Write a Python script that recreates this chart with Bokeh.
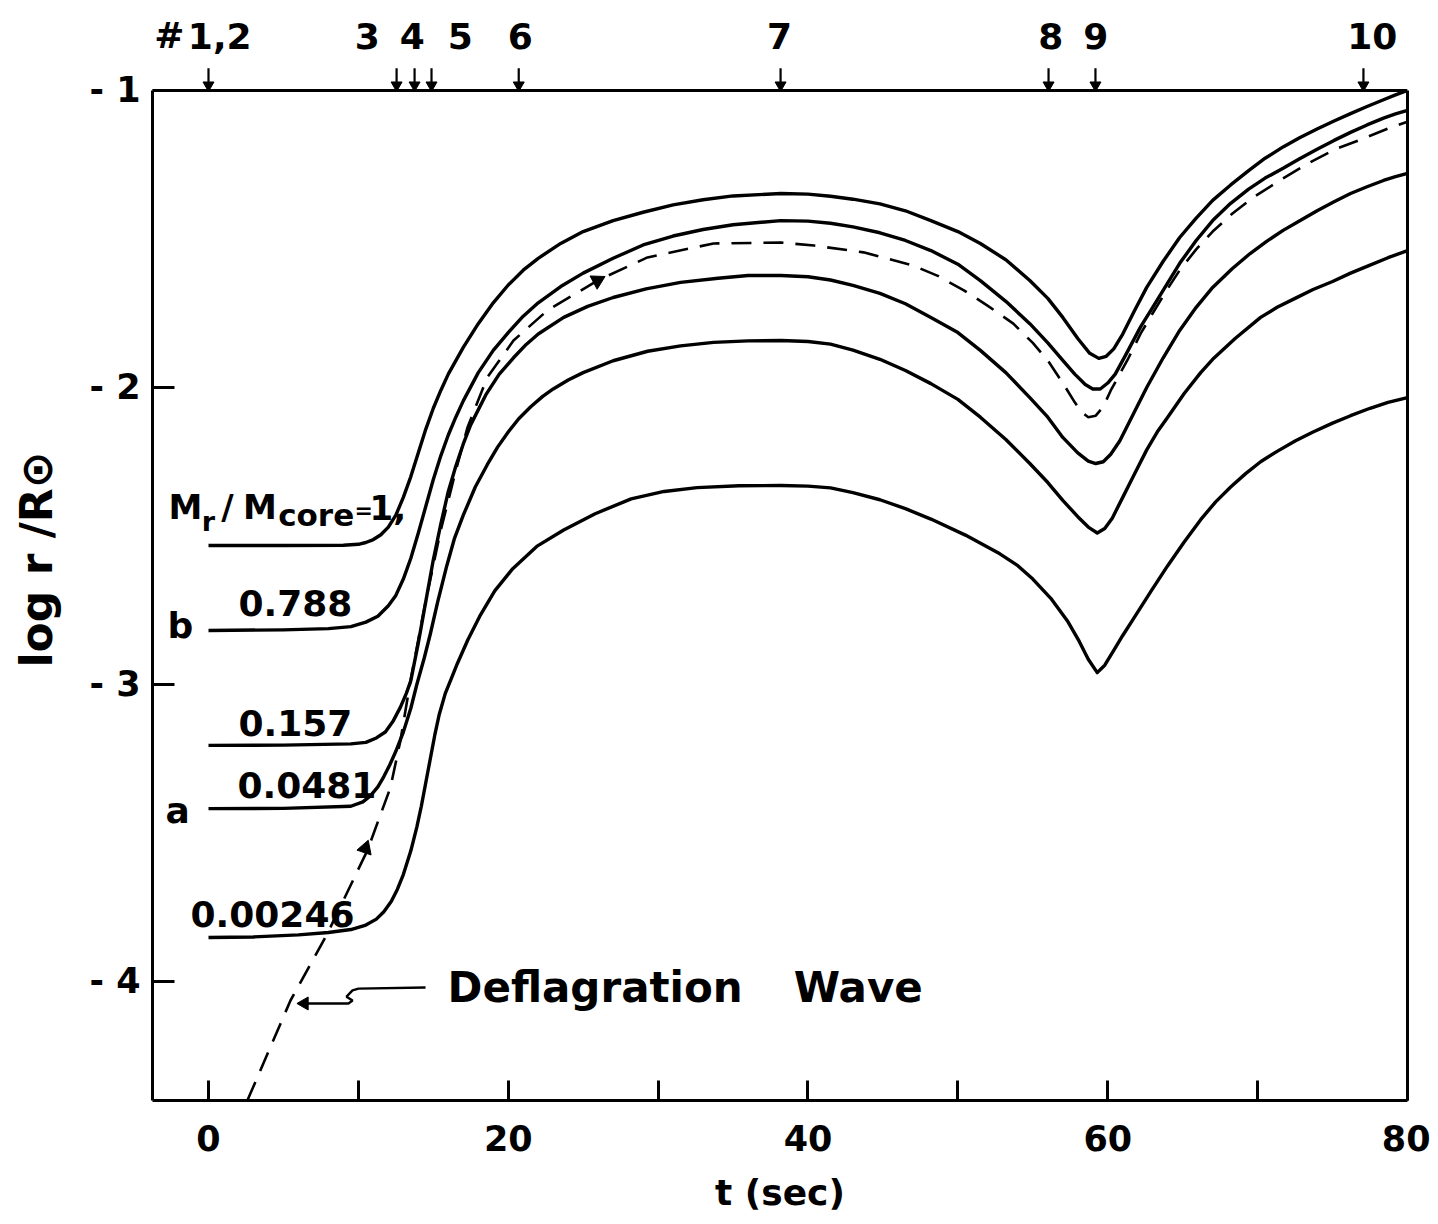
from bokeh.plotting import figure
from bokeh.models import Range1d, FixedTicker, LinearAxis, CustomJSTickFormatter, Span
from bokeh.embed import file_html
from bokeh.resources import INLINE
from bokeh.core.properties import value

# ---------------- data ----------------
# Mr/Mcore = 1
t_m1 = [0, 5, 9, 10, 10.5, 11, 11.5, 12, 12.5, 13, 13.5, 14, 14.5, 15, 15.5, 16, 17, 18, 19,
        20, 21, 22, 23.5, 25, 27, 29, 31, 33, 35, 38.2, 40, 41.5, 43, 44.8, 46.5, 48.2, 50,
        51.5, 53.2, 54.8, 56, 57, 58, 58.8, 59.4, 59.9, 60.4, 61.0, 61.8, 62.6, 63.7, 64.8,
        65.9, 67, 68.2, 69.4, 70.5, 71.7, 72.8, 74, 75.1, 76.2, 77.3, 78.4, 79.2, 80]
y_m1 = [-2.532, -2.532, -2.531, -2.528, -2.522, -2.512, -2.496, -2.47, -2.43, -2.37, -2.30,
        -2.22, -2.14, -2.07, -2.01, -1.955, -1.865, -1.785, -1.715, -1.655, -1.605, -1.565,
        -1.515, -1.475, -1.438, -1.41, -1.385, -1.368, -1.355, -1.347, -1.349, -1.356,
        -1.366, -1.382, -1.405, -1.438, -1.475, -1.515, -1.57, -1.64, -1.70, -1.764, -1.835,
        -1.885, -1.902, -1.895, -1.87, -1.82, -1.74, -1.663, -1.575, -1.495, -1.43, -1.37,
        -1.318, -1.27, -1.228, -1.19, -1.159, -1.129, -1.103, -1.078, -1.054, -1.031, -1.015,
        -1.0]
# Mr/Mcore = 0.788 (b)
t_m2 = [0, 5, 8, 9.5, 10.5, 11.3, 12, 12.5, 13, 13.5, 14, 14.5, 15, 15.5, 16, 16.5, 17, 18,
        19, 20, 21, 22, 23.5, 25, 27, 29, 31, 33, 35, 38.2, 40, 41.5, 43, 44.8, 46.5, 48.2,
        50, 51.5, 53.2, 54.8, 56, 57, 57.8, 58.5, 59.0, 59.5, 60.0, 60.5, 61.2, 62.2, 63.0,
        64.8, 65.9, 67, 68.2, 69.4, 70.5, 71.7, 72.8, 74, 75.1, 76.2, 77.3, 78.4, 79.2, 80]
y_m2 = [-2.818, -2.816, -2.812, -2.805, -2.79, -2.77, -2.735, -2.70, -2.645, -2.575, -2.49,
        -2.40, -2.31, -2.23, -2.16, -2.10, -2.045, -1.95, -1.875, -1.815, -1.76, -1.715,
        -1.66, -1.615, -1.565, -1.52, -1.49, -1.468, -1.452, -1.438, -1.440, -1.447, -1.459,
        -1.479, -1.505, -1.539, -1.585, -1.64, -1.71, -1.785, -1.85, -1.909, -1.955, -1.99,
        -2.005, -2.005, -1.985, -1.955, -1.89, -1.795, -1.73, -1.582, -1.505, -1.438, -1.38,
        -1.332, -1.295, -1.262, -1.23, -1.197, -1.168, -1.141, -1.116, -1.093, -1.079, -1.067]
# Mr/Mcore = 0.157
t_m3 = [0, 5, 9.5, 10.5, 11.2, 11.8, 12.3, 12.8, 13.2, 13.5, 14, 14.5, 15, 15.5, 16, 16.5,
        17, 17.5, 18.5, 19.4, 20.35, 21.2, 22, 23.7, 25.3, 27, 29.2, 31.5, 34, 36, 38.2, 40,
        41.5, 43, 44.8, 46.5, 48.2, 50, 51.5, 53.2, 54.8, 56, 57, 58, 58.7, 59.2, 59.7, 60.2,
        60.8, 61.7, 62.6, 63.7, 64.8, 65.9, 67, 68.3, 69.5, 70.6, 71.7, 72.9, 74, 75.1, 76.2,
        77.3, 78.4, 79.2, 80]
y_m3 = [-3.205, -3.204, -3.20, -3.195, -3.18, -3.16, -3.125, -3.077, -3.03, -2.987, -2.86,
        -2.72, -2.58, -2.46, -2.35, -2.265, -2.19, -2.125, -2.025, -1.955, -1.90, -1.855,
        -1.82, -1.764, -1.727, -1.697, -1.668, -1.646, -1.632, -1.623, -1.623, -1.627, -1.638,
        -1.656, -1.683, -1.718, -1.764, -1.815, -1.875, -1.95, -2.034, -2.10, -2.168, -2.22,
        -2.248, -2.256, -2.25, -2.225, -2.18, -2.09, -2.0, -1.90, -1.808, -1.73, -1.663, -1.60,
        -1.549, -1.508, -1.471, -1.436, -1.404, -1.375, -1.347, -1.324, -1.303, -1.29, -1.279]
# Mr/Mcore = 0.0481 (a)
t_m4 = [0, 5, 9.5, 10.3, 10.8, 11.3, 11.7, 12.1, 12.5, 13, 13.5, 13.9, 14.4, 14.8, 15.3,
        15.9, 16.4, 17, 17.8, 18.6, 19.3, 20, 20.7, 21.5, 22.3, 23, 24, 25, 27, 29.3, 31.5,
        33.7, 36, 38.2, 40, 41.5, 43, 44.8, 46.5, 48.2, 50, 51.5, 53.2, 54.8, 56, 57, 58, 58.7,
        59.3, 59.8, 60.3, 61, 61.7, 62.6, 63.3, 64, 65.1, 66.2, 67, 68.5, 70.2, 71.3, 72.5,
        73.7, 75, 76.2, 77.5, 78.7, 80]
y_m4 = [-3.418, -3.417, -3.41, -3.395, -3.375, -3.345, -3.31, -3.27, -3.225, -3.16, -3.08,
        -3.0, -2.91, -2.83, -2.72, -2.60, -2.51, -2.43, -2.335, -2.26, -2.20, -2.15, -2.105,
        -2.065, -2.03, -2.005, -1.975, -1.95, -1.91, -1.878, -1.86, -1.848, -1.843, -1.842,
        -1.845, -1.854, -1.874, -1.905, -1.943, -1.987, -2.04, -2.10, -2.175, -2.256, -2.32,
        -2.38, -2.435, -2.47, -2.49, -2.475, -2.44, -2.37, -2.30, -2.21, -2.15, -2.10, -2.02,
        -1.95, -1.905, -1.835, -1.764, -1.73, -1.70, -1.67, -1.643, -1.615, -1.588, -1.563,
        -1.539]
# Mr/Mcore = 0.00246
t_m5 = [0, 3, 6, 8, 9.5, 10.5, 11.2, 11.7, 12.2, 12.6, 13, 13.5, 13.9, 14.2, 14.5, 14.8,
        15.1, 15.4, 15.8, 16.2, 16.6, 17.3, 18.1, 19.1, 20.3, 21.9, 23.7, 25.8, 28.2, 30.4,
        32.6, 35.4, 38.2, 40, 41.5, 43, 44.8, 46.5, 48.2, 50.5, 52.8, 54, 55, 56.2, 57.3,
        58.1, 58.7, 59.3, 59.8, 60.4, 61, 61.7, 62.9, 64, 65.1, 66.2, 67.2, 68.2, 69.2, 70.2,
        71.3, 72.5, 73.7, 75, 76.2, 77.5, 78.7, 80]
y_m5 = [-3.852, -3.85, -3.843, -3.835, -3.825, -3.81, -3.79, -3.765, -3.73, -3.69, -3.64,
        -3.56, -3.48, -3.41, -3.33, -3.25, -3.17, -3.10, -3.03, -2.98, -2.93, -2.85, -2.77,
        -2.685, -2.61, -2.535, -2.48, -2.425, -2.375, -2.35, -2.337, -2.331, -2.33, -2.332,
        -2.338, -2.354, -2.378, -2.408, -2.443, -2.497, -2.56, -2.60, -2.645, -2.71, -2.785,
        -2.855, -2.915, -2.96, -2.935, -2.885, -2.835, -2.78, -2.685, -2.60, -2.52, -2.445,
        -2.385, -2.335, -2.29, -2.25, -2.215, -2.18, -2.15, -2.12, -2.095, -2.07, -2.05,
        -2.034]
# deflagration wave (dashed)
t_wave = [2.6, 5.47, 7.94, 10.6, 12.14, 12.8, 13.48, 14.5, 15.5, 16.5, 17.28, 18.6, 20.35,
          22.6, 25.95, 29.29, 33.7, 38.2, 40.4, 43.7, 47.0, 48.7, 50.4, 52.0, 53.7, 55.0,
          56.0, 57.0, 57.8, 58.3, 58.7, 59.2, 59.7, 60.2, 61.3, 62.2, 63.0, 63.9, 64.8, 65.9,
          67.0, 68.3, 69.7, 71.7, 73.5, 75.3, 77.05, 78.85, 80]
y_wave = [-4.40, -4.064, -3.838, -3.559, -3.347, -3.19, -2.987, -2.717, -2.48, -2.28, -2.135,
          -1.966, -1.842, -1.741, -1.640, -1.562, -1.515, -1.512, -1.522, -1.545, -1.589,
          -1.625, -1.673, -1.725, -1.785, -1.85, -1.909, -1.985, -2.05, -2.085, -2.10, -2.095,
          -2.065, -2.01, -1.909, -1.818, -1.75, -1.675, -1.605, -1.535, -1.475, -1.415, -1.36,
          -1.296, -1.242, -1.195, -1.162, -1.125, -1.105]
# arrowheads on the wave track
wave_arrow_t = [10.47, 25.95]
wave_arrow_y = [-3.552, -1.640]

curve_labels = ["0.788", "0.157", "0.0481", "0.00246"]

# model numbers marked on the top edge
event_t = [0, 12.55, 13.75, 14.88, 20.7, 38.17, 56.05, 59.18, 77.06]
event_labels = ["1,2", "3", "4", "5", "6", "7", "8", "9", "10"]

x_ticks = [0, 20, 40, 60, 80]
x_minor_ticks = [10, 30, 50, 70]
y_ticks = [-4, -3, -2, -1]

# ---------------- figure ----------------
FONT = "DejaVu Sans"
X0, X1 = -3.736, 80.0
Y0, Y1 = -4.4007, -0.7576
YTOP = -1.0

p = figure(width=1430, height=1216, x_range=Range1d(X0, X1), y_range=Range1d(Y0, Y1),
           output_backend="svg", toolbar_location=None,
           min_border_left=152, min_border_right=23, min_border_top=18, min_border_bottom=116)
p.outline_line_color = None
p.grid.visible = False
p.background_fill_color = "white"
p.border_fill_color = "white"

xa = p.xaxis[0]
xa.ticker = FixedTicker(ticks=x_ticks, minor_ticks=x_minor_ticks)
xa.major_tick_in = 20
xa.major_tick_out = 0
xa.minor_tick_in = 20
xa.minor_tick_out = 0
xa.axis_line_width = 3
xa.major_tick_line_width = 3
xa.minor_tick_line_width = 3
xa.minor_tick_line_color = "black"
xa.major_label_text_font = FONT
xa.major_label_text_font_size = "35px"
xa.major_label_text_font_style = "bold"
xa.major_label_text_color = "black"
xa.major_label_standoff = 24
xa.axis_label = "t (sec)"
xa.axis_label_text_font = FONT
xa.axis_label_text_font_size = "36px"
xa.axis_label_text_font_style = "bold"
xa.axis_label_text_color = "black"
xa.axis_label_standoff = 18

ya = p.yaxis[0]
ya.ticker = FixedTicker(ticks=y_ticks)
ya.bounds = (Y0, YTOP)
ya.formatter = CustomJSTickFormatter(code="return '- ' + String(Math.abs(Math.round(tick)));")
ya.major_tick_in = 22
ya.major_tick_out = 0
ya.minor_tick_line_color = None
ya.axis_line_width = 3
ya.major_tick_line_width = 3
ya.major_label_text_font = FONT
ya.major_label_text_font_size = "35px"
ya.major_label_text_font_style = "bold"
ya.major_label_text_color = "black"
ya.major_label_standoff = 12
ya.axis_label = "log r /R\u2299"
ya.axis_label_text_font = FONT
ya.axis_label_text_font_size = "44px"
ya.axis_label_text_font_style = "bold"
ya.axis_label_text_color = "black"
ya.axis_label_standoff = 24

ra = LinearAxis(bounds=(Y0, YTOP), ticker=FixedTicker(ticks=[]), major_tick_line_color=None,
                minor_tick_line_color=None, axis_line_width=3)
p.add_layout(ra, "right")

p.add_layout(Span(location=YTOP, dimension="width", line_color="black", line_width=3))

# curves
for tt, yy in [(t_m1, y_m1), (t_m2, y_m2), (t_m3, y_m3), (t_m4, y_m4), (t_m5, y_m5)]:
    p.line(tt, yy, line_color="black", line_width=3.4, line_join="round")
p.line(t_wave, y_wave, line_color="black", line_width=2.6, line_dash="20 12")
p.scatter(wave_arrow_t, wave_arrow_y, marker="triangle", size=15, angle=[-0.33, -1.08],
          fill_color="black", line_color="black")

# top event arrows and numbers
n_ev = len(event_t)
p.segment(x0=event_t, y0=[-0.925] * n_ev, x1=event_t, y1=[YTOP] * n_ev,
          line_color="black", line_width=2.2)
p.scatter(event_t, [-0.982] * n_ev, marker="inverted_triangle", size=11,
          fill_color="black", line_color="black")
label_x = [0.75, 10.6, 13.6, 16.8, 20.8, 38.1, 56.2, 59.2, 77.65]
p.text(x=label_x, y=[-0.815] * n_ev, text=event_labels, text_align="center",
       text_baseline="middle", text_font=value(FONT), text_font_size=value("36px"),
       text_font_style="bold", text_color="black")
p.text(x=[-3.62], y=[-0.815], text=["#"], text_align="left", text_baseline="middle",
       text_font=value(FONT), text_font_size=value("36px"), text_font_style="bold",
       text_color="black")

# curve labels
def txt(x, y, s, size="36px"):
    p.text(x=[x], y=[y], text=[s], text_align="left", text_baseline="middle",
           text_font=value(FONT), text_font_size=value(size), text_font_style="bold",
           text_color="black")

txt(-2.67, -2.404, "M", "34px")
txt(-0.45, -2.45, "r", "27px")
txt(0.85, -2.404, "/", "34px")
txt(2.3, -2.404, "M", "34px")
txt(4.65, -2.43, "core", "31px")
txt(9.75, -2.414, "=", "22px")
txt(10.75, -2.404, "1,", "34px")
txt(2.0, -2.727, curve_labels[0], "36px")
txt(-2.74, -2.801, "b", "36px")
txt(2.0, -3.128, curve_labels[1], "36px")
txt(1.93, -3.337, curve_labels[2], "36px")
txt(-2.87, -3.424, "a", "36px")
txt(-1.2, -3.774, curve_labels[3], "36px")
txt(15.95, -4.02, "Deflagration", "42px")
txt(39.05, -4.02, "Wave", "42px")

# pointer to the wave
p.line([14.48, 10.01, 9.61, 9.21, 9.61, 9.34, 6.6],
       [-4.020, -4.024, -4.030, -4.051, -4.064, -4.074, -4.074],
       line_color="black", line_width=2.4)
p.scatter([6.4], [-4.074], marker="triangle", size=13, angle=[1.5708],
          fill_color="black", line_color="black")

open("out.html", "w").write(file_html(p, INLINE))
